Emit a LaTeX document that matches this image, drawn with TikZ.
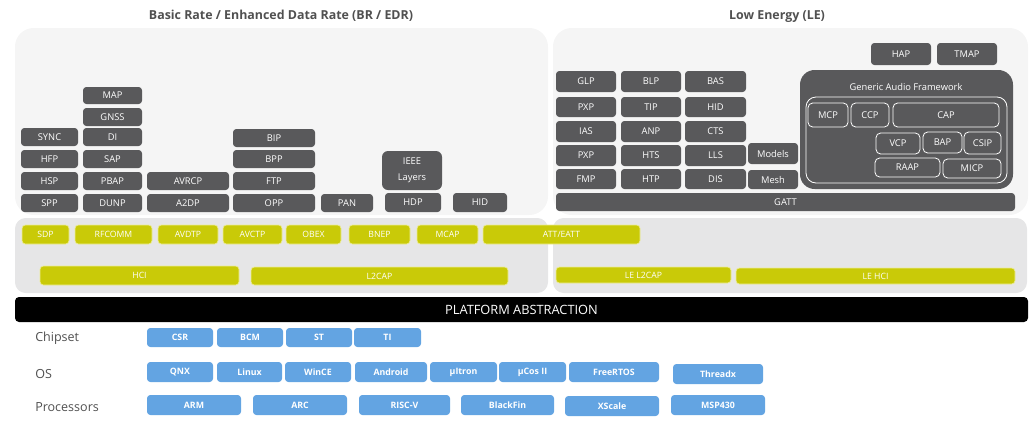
\documentclass[tikz,border=0pt]{standalone}
\usepackage{fontspec}
\setmainfont{Open Sans}
\definecolor{dk}{RGB}{89,89,91}
\definecolor{yl}{RGB}{201,202,8}
\definecolor{ylb}{RGB}{236,236,150}
\definecolor{bl}{RGB}{99,164,226}
\definecolor{pl}{RGB}{245,245,245}
\definecolor{pm}{RGB}{230,230,231}
\definecolor{tg}{RGB}{80,80,80}
\newcommand\bx[7]{\node[#1,minimum width={(#5-#3)*0.75pt},minimum height={(#6-#4)*0.75pt}] (#2) at ({(#3+#5)/2},{(#4+#6)/2}) {#7};}
\tikzset{
  box/.style={inner sep=0pt, outer sep=0pt, text=white, font=\fontsize{7}{8}\selectfont},
  dbox/.style={box, fill=dk, rounded corners=2.5pt},
  gbox/.style={box, draw=white, line width=0.6pt, rounded corners=3.5pt},
  ybox/.style={box, fill=yl, draw=ylb, line width=0.5pt, rounded corners=2.5pt, font=\fontsize{6.5}{8}\selectfont},
  bbox/.style={box, fill=bl, rounded corners=2.5pt, font=\bfseries\fontsize{6.6}{8}\selectfont},
  panel/.style={inner sep=0pt, outer sep=0pt, fill=pl, rounded corners=14pt},
  mpanel/.style={inner sep=0pt, outer sep=0pt, fill=pm, rounded corners=8pt},
  title/.style={text=tg, font=\bfseries\fontsize{9.3}{11}\selectfont},
  lab/.style={text=tg, font=\fontsize{9.4}{11}\selectfont, anchor=west, inner sep=0pt},
}
\begin{document}
\begin{tikzpicture}[x=0.75pt,y=-0.75pt]
\useasboundingbox (0,0) rectangle (1036,447);
% titles
\node[title] (brt) at (281,16) {Basic Rate / Enhanced Data Rate (BR / EDR)};
\node[title] (let) at (777,17) {Low Energy (LE)};
% panels
\bx{panel}{brp}{15}{28}{548}{215}{}
\bx{panel}{lep}{553}{28}{1028}{215}{}
\bx{mpanel}{brm}{15}{218}{548}{293}{}
\bx{mpanel}{lem}{553}{218}{1027}{293}{}
% BR/EDR profiles
\bx{dbox}{spp}{21}{194}{78}{212}{SPP}
\bx{dbox}{hsp}{21}{172}{78}{190}{HSP}
\bx{dbox}{hfp}{21}{150}{78}{168}{HFP}
\bx{dbox}{sync}{21}{128}{78}{146}{SYNC}
\bx{dbox}{dunp}{83}{194}{142}{212}{DUNP}
\bx{dbox}{pbap}{83}{172}{142}{190}{PBAP}
\bx{dbox}{sap}{83}{150}{142}{168}{SAP}
\bx{dbox}{di}{83}{128}{142}{146}{DI}
\bx{dbox}{gnss}{83}{108}{142}{126}{GNSS}
\bx{dbox}{map}{83}{87}{142}{104}{MAP}
\bx{dbox}{a2dp}{147}{194}{229}{212}{A2DP}
\bx{dbox}{avrcp}{147}{172}{229}{190}{AVRCP}
\bx{dbox}{opp}{233}{194}{315}{212}{OPP}
\bx{dbox}{ftp}{233}{172}{315}{190}{FTP}
\bx{dbox}{bpp}{233}{150}{315}{168}{BPP}
\bx{dbox}{bip}{233}{129}{315}{147}{BIP}
\bx{dbox}{pan}{321}{194}{373}{212}{PAN}
\bx{dbox,rounded corners=4.5pt,align=center,font=\fontsize{7}{12}\selectfont}{ieee}{382}{151}{442}{190}{IEEE\\Layers}
\bx{dbox}{hdp}{385}{193}{441}{212}{HDP}
\bx{dbox}{hidb}{453}{193}{507}{212}{HID}
% LE profiles
\bx{dbox}{glp}{556}{71}{616}{92}{GLP}
\bx{dbox}{pxpa}{556}{97}{616}{117}{PXP}
\bx{dbox}{ias}{556}{121}{616}{142}{IAS}
\bx{dbox}{pxpb}{556}{145}{616}{166}{PXP}
\bx{dbox}{fmp}{556}{169}{616}{189}{FMP}
\bx{dbox}{blp}{621}{71}{681}{92}{BLP}
\bx{dbox}{tip}{621}{97}{681}{117}{TIP}
\bx{dbox}{anp}{621}{121}{681}{142}{ANP}
\bx{dbox}{hts}{621}{145}{681}{166}{HTS}
\bx{dbox}{htp}{621}{169}{681}{189}{HTP}
\bx{dbox}{bas}{685}{71}{746}{92}{BAS}
\bx{dbox}{hidl}{685}{97}{746}{117}{HID}
\bx{dbox}{cts}{685}{121}{746}{142}{CTS}
\bx{dbox}{lls}{685}{145}{746}{166}{LLS}
\bx{dbox}{dis}{685}{169}{746}{189}{DIS}
\bx{dbox}{models}{748}{143}{798}{164}{Models}
\bx{dbox}{mesh}{748}{170}{798}{189}{Mesh}
\bx{dbox}{gatt}{556}{193}{1015}{211}{GATT}
\bx{dbox}{hap}{871}{43}{931}{65}{HAP}
\bx{dbox}{tmap}{937}{43}{997}{65}{TMAP}
\bx{dbox,rounded corners=11pt}{gaf}{800}{70}{1013}{189}{}
\node[box] (gaft) at (906,87) {Generic Audio Framework};
\bx{gbox,rounded corners=7.5pt}{gafi}{806}{97}{1007}{183}{}
\bx{gbox}{mcp}{808}{103}{848}{127}{MCP}
\bx{gbox}{ccp}{851}{103}{889}{127}{CCP}
\bx{gbox}{cap}{893}{103}{999}{127}{CAP}
\bx{gbox}{vcp}{876}{133}{920}{154}{VCP}
\bx{gbox}{bap}{923}{132}{962}{153}{BAP}
\bx{gbox}{csip}{964}{132}{1001}{154}{CSIP}
\bx{gbox}{raap}{875}{158}{940}{177}{RAAP}
\bx{gbox}{micp}{943}{159}{1001}{178}{MICP}
% protocol layer
\bx{ybox}{sdp}{22}{225}{69}{244}{SDP}
\bx{ybox}{rfcomm}{75}{225}{152}{244}{RFCOMM}
\bx{ybox}{avdtp}{158}{225}{218}{244}{AVDTP}
\bx{ybox}{avctp}{223}{225}{282}{244}{AVCTP}
\bx{ybox}{obex}{286}{225}{341}{244}{OBEX}
\bx{ybox}{bnep}{349}{225}{410}{244}{BNEP}
\bx{ybox}{mcap}{417}{225}{478}{244}{MCAP}
\bx{ybox}{att}{483}{225}{640}{244}{ATT/EATT}
\bx{ybox}{hci}{40}{266}{239}{285}{HCI}
\bx{ybox}{l2cap}{251}{267}{508}{285}{L2CAP}
\bx{ybox}{lel2cap}{556}{267}{731}{283}{LE L2CAP}
\bx{ybox}{lehci}{736}{268}{1015}{284}{LE HCI}
% platform abstraction
\bx{box,fill=black,rounded corners=3pt,font=\fontsize{9.6}{11}\selectfont}{pa}{15}{297}{1028}{322}{PLATFORM ABSTRACTION}
% platforms
\node[lab] (chip) at (35,338) {Chipset};
\node[lab] (os) at (35,374) {OS};
\node[lab] (proc) at (35,407) {Processors};
\bx{bbox}{csr}{147}{328}{213}{347}{CSR}
\bx{bbox}{bcm}{217}{328}{283}{347}{BCM}
\bx{bbox}{st}{286}{328}{352}{347}{ST}
\bx{bbox}{ti}{354}{328}{421}{347}{TI}
\bx{bbox}{qnx}{147}{362}{213}{382}{QNX}
\bx{bbox}{linux}{217}{362}{282}{382}{Linux}
\bx{bbox}{wince}{285}{362}{351}{382}{WinCE}
\bx{bbox}{android}{355}{362}{427}{382}{Android}
\bx{bbox}{uitron}{430}{362}{497}{382}{µItron}
\bx{bbox}{ucos}{499}{362}{566}{382}{µCos II}
\bx{bbox}{freertos}{569}{362}{659}{382}{FreeRTOS}
\bx{bbox}{threadx}{673}{364}{763}{384}{Threadx}
\bx{bbox}{arm}{147}{395}{241}{415}{ARM}
\bx{bbox}{arc}{253}{395}{347}{415}{ARC}
\bx{bbox}{riscv}{359}{395}{450}{415}{RISC-V}
\bx{bbox}{blackfin}{461}{395}{554}{415}{BlackFin}
\bx{bbox}{xscale}{565}{396}{659}{416}{XScale}
\bx{bbox}{msp}{671}{395}{765}{415}{MSP430}
\end{tikzpicture}
\end{document}
